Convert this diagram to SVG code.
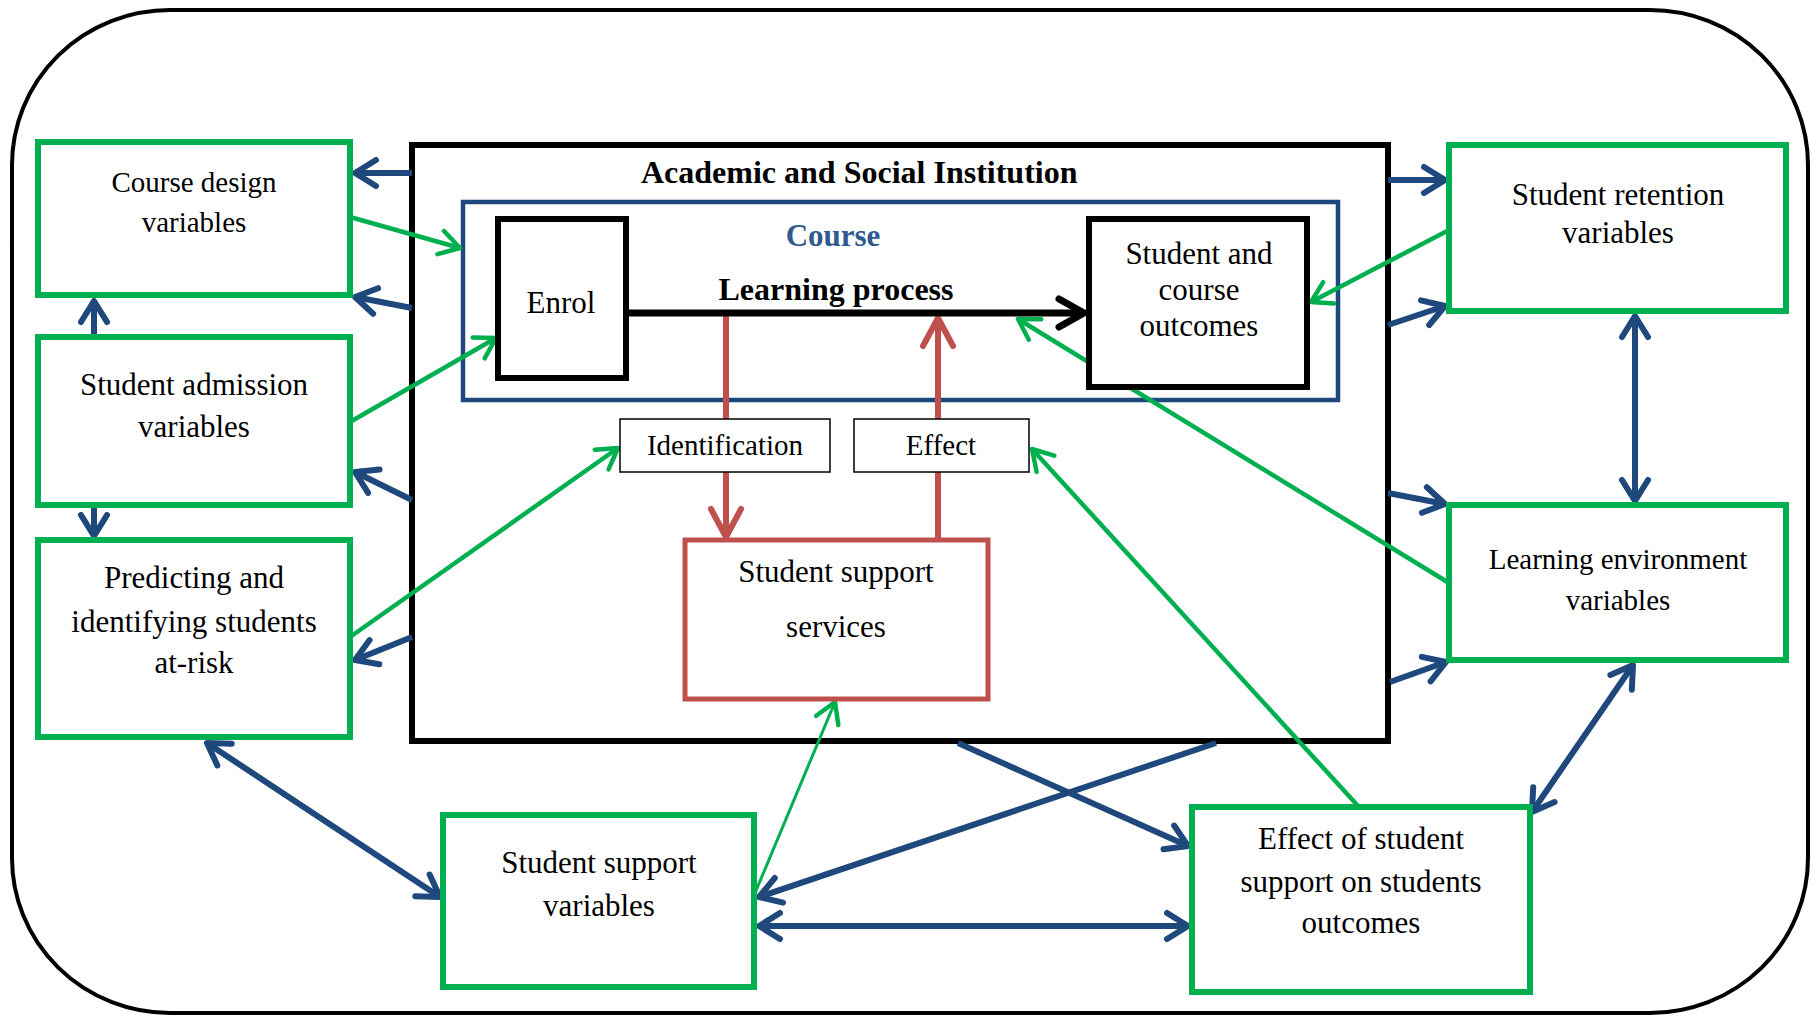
<svg xmlns="http://www.w3.org/2000/svg" width="1811" height="1016" viewBox="0 0 1811 1016">
<style>
text{font-family:"Liberation Serif","Times New Roman",serif;fill:#000;text-anchor:middle}
.b{font-weight:bold}
.g{fill:#fff;stroke:#00B050;stroke-width:6}
.k{fill:#fff;stroke:#000;stroke-width:6}
.bl{stroke:#1F497D;stroke-width:6;fill:none}
.gr{stroke:#00B050;stroke-width:4.5;fill:none}
.rd{stroke:#C0504D;stroke-width:6;fill:none}
</style>
<defs>
<marker id="ab" markerUnits="userSpaceOnUse" markerWidth="60" markerHeight="60" viewBox="-30 -30 60 60" refX="0" refY="0" orient="auto-start-reverse">
<path d="M-21,-13 L0,0 L-21,13" fill="none" stroke="#1F497D" stroke-width="6" stroke-linecap="round" stroke-linejoin="round"/>
</marker>
<marker id="ag" markerUnits="userSpaceOnUse" markerWidth="60" markerHeight="60" viewBox="-30 -30 60 60" refX="0" refY="0" orient="auto">
<path d="M-20,-12 L0,0 L-20,12" fill="none" stroke="#00B050" stroke-width="4.5" stroke-linecap="round" stroke-linejoin="round"/>
</marker>
<marker id="ar" markerUnits="userSpaceOnUse" markerWidth="70" markerHeight="70" viewBox="-35 -35 70 70" refX="0" refY="0" orient="auto">
<path d="M-28,-15 L0,0 L-28,15" fill="none" stroke="#C0504D" stroke-width="6" stroke-linecap="round" stroke-linejoin="round"/>
</marker>
<marker id="ak" markerUnits="userSpaceOnUse" markerWidth="70" markerHeight="70" viewBox="-35 -35 70 70" refX="0" refY="0" orient="auto">
<path d="M-25,-14 L0,0 L-25,14" fill="none" stroke="#000" stroke-width="7" stroke-linecap="round" stroke-linejoin="round"/>
</marker>
</defs>
<rect x="0" y="0" width="1811" height="1016" fill="#fff"/>
<rect id="frame" x="12" y="10" width="1796" height="1003" rx="158" ry="155" fill="#fff" stroke="#000" stroke-width="4"/>

<g id="academic">
<rect x="412" y="145" width="976" height="596" class="k"/>
<text x="641" y="183" class="b" font-size="32" style="text-anchor:start">Academic and Social Institution</text>
</g>
<g id="course">
<rect x="463" y="202" width="875" height="198" fill="none" stroke="#1F497D" stroke-width="4.5"/>
<text x="833" y="246" class="b" font-size="31" style="fill:#2E5A8E">Course</text>
<text x="836" y="300" class="b" font-size="32">Learning process</text>
</g>

<g id="connectors">
<line class="bl" x1="412" y1="173" x2="355" y2="173" marker-end="url(#ab)"/>
<line class="bl" x1="412" y1="308" x2="355" y2="297" marker-end="url(#ab)"/>
<line class="bl" x1="412" y1="500" x2="355" y2="472" marker-end="url(#ab)"/>
<line class="bl" x1="412" y1="637" x2="355" y2="660" marker-end="url(#ab)"/>
<line class="bl" x1="94" y1="337" x2="94" y2="301" marker-end="url(#ab)"/>
<line class="bl" x1="94" y1="505" x2="94" y2="536" marker-end="url(#ab)"/>
<line class="bl" x1="1388" y1="180" x2="1445" y2="180" marker-end="url(#ab)"/>
<line class="bl" x1="1388" y1="325" x2="1445" y2="306" marker-end="url(#ab)"/>
<line class="bl" x1="1388" y1="493" x2="1445" y2="504" marker-end="url(#ab)"/>
<line class="bl" x1="1390" y1="682" x2="1446" y2="662" marker-end="url(#ab)"/>
<line class="bl" x1="1635" y1="316" x2="1635" y2="501" marker-start="url(#ab)" marker-end="url(#ab)"/>
<line class="bl" x1="1633" y1="665" x2="1532" y2="812" marker-start="url(#ab)" marker-end="url(#ab)"/>
<line class="bl" x1="207" y1="743" x2="440" y2="897" marker-start="url(#ab)" marker-end="url(#ab)"/>
<line class="bl" x1="759" y1="926" x2="1188" y2="926" marker-start="url(#ab)" marker-end="url(#ab)"/>
<line class="bl" x1="958" y1="743" x2="1188" y2="846" marker-end="url(#ab)"/>
<line class="bl" x1="1216" y1="743" x2="759" y2="897" marker-end="url(#ab)"/>

<line class="gr" x1="350" y1="217" x2="460" y2="248" marker-end="url(#ag)"/>
<line class="gr" x1="350" y1="422" x2="496" y2="338" marker-end="url(#ag)"/>
<line class="gr" x1="350" y1="637" x2="618" y2="448" marker-end="url(#ag)"/>
<line class="gr" x1="1449" y1="230" x2="1311" y2="302" marker-end="url(#ag)"/>
<line class="gr" x1="1449" y1="583" x2="1018" y2="319" marker-end="url(#ag)"/>
<line class="gr" x1="1359" y1="807" x2="1032" y2="449" marker-end="url(#ag)"/>
<line x1="755" y1="893" x2="835" y2="702" stroke="#00B050" stroke-width="3" marker-end="url(#ag)"/>

<line class="rd" x1="726" y1="316" x2="726" y2="419"/>
<line class="rd" x1="726" y1="472" x2="726" y2="537" marker-end="url(#ar)"/>
<line class="rd" x1="938" y1="540" x2="938" y2="472"/>
<line class="rd" x1="938" y1="419" x2="938" y2="318" marker-end="url(#ar)"/>

<line x1="626" y1="313" x2="1084" y2="313" stroke="#000" stroke-width="7" marker-end="url(#ak)"/>
</g>

<g id="enrol">
<rect x="498" y="219" width="128" height="159" class="k"/>
<text x="561" y="313" font-size="31">Enrol</text>
</g>
<g id="outcomes">
<rect x="1089" y="219" width="218" height="168" class="k"/>
<text x="1199" y="264" font-size="31">Student and</text>
<text x="1199" y="300" font-size="31">course</text>
<text x="1199" y="336" font-size="31">outcomes</text>
</g>
<g id="identification">
<rect x="620" y="419" width="210" height="53" fill="#fff" stroke="#000" stroke-width="1.5"/>
<text x="725" y="455" font-size="29">Identification</text>
</g>
<g id="effect">
<rect x="854" y="419" width="175" height="53" fill="#fff" stroke="#000" stroke-width="1.5"/>
<text x="941" y="455" font-size="29">Effect</text>
</g>
<g id="support-services">
<rect x="685" y="540" width="303" height="159" fill="#fff" stroke="#C0504D" stroke-width="5"/>
<text x="836" y="582" font-size="31">Student support</text>
<text x="836" y="637" font-size="31">services</text>
</g>
<g id="course-design">
<rect x="38" y="142" width="312" height="153" class="g"/>
<text x="194" y="192" font-size="29">Course design</text>
<text x="194" y="232" font-size="29">variables</text>
</g>
<g id="admission">
<rect x="38" y="337" width="312" height="168" class="g"/>
<text x="194" y="395" font-size="31">Student admission</text>
<text x="194" y="437" font-size="31">variables</text>
</g>
<g id="predicting">
<rect x="38" y="540" width="312" height="197" class="g"/>
<text x="194" y="588" font-size="31">Predicting and</text>
<text x="194" y="632" font-size="31">identifying students</text>
<text x="194" y="673" font-size="31">at-risk</text>
</g>
<g id="support-variables">
<rect x="443" y="815" width="311" height="172" class="g"/>
<text x="599" y="873" font-size="31">Student support</text>
<text x="599" y="916" font-size="31">variables</text>
</g>
<g id="effect-outcomes">
<rect x="1192" y="807" width="338" height="185" class="g"/>
<text x="1361" y="849" font-size="31">Effect of student</text>
<text x="1361" y="892" font-size="31">support on students</text>
<text x="1361" y="933" font-size="31">outcomes</text>
</g>
<g id="learning-environment">
<rect x="1449" y="505" width="337" height="155" class="g"/>
<text x="1618" y="569" font-size="29">Learning environment</text>
<text x="1618" y="610" font-size="29">variables</text>
</g>
<g id="retention">
<rect x="1449" y="145" width="337" height="166" class="g"/>
<text x="1618" y="205" font-size="31">Student retention</text>
<text x="1618" y="243" font-size="31">variables</text>
</g>
</svg>
